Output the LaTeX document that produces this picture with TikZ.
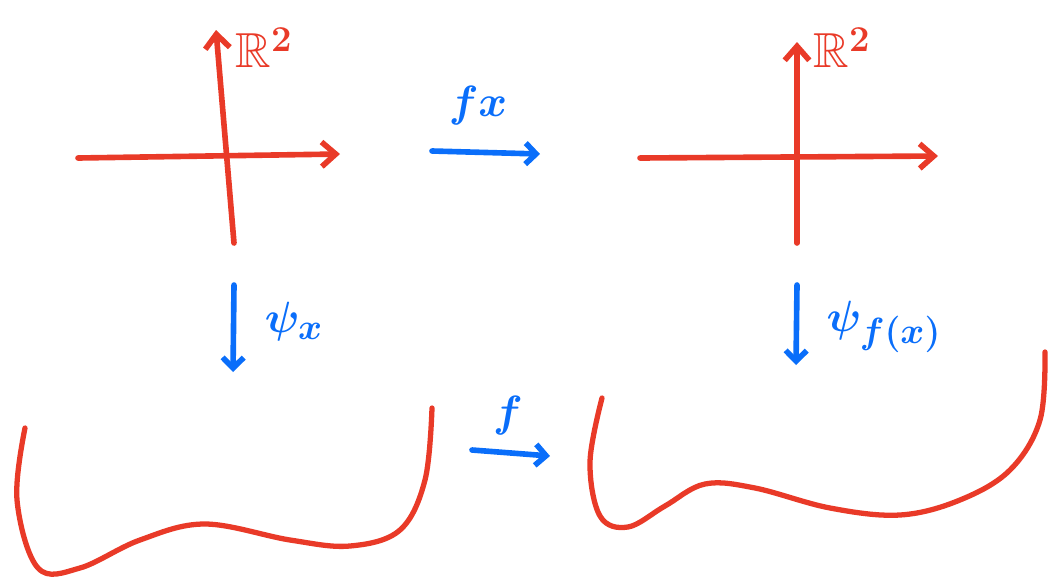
\documentclass[tikz,border=0pt]{standalone}
\usepackage{amssymb}
\usetikzlibrary{arrows.meta}
\definecolor{inkred}{RGB}{233,58,40}
\definecolor{inkblue}{RGB}{10,110,250}
\begin{document}
\begin{tikzpicture}[
    x=0.02cm, y=-0.02cm,
    axis/.style={inkred, line width=3.2pt, line cap=round, -{Straight Barb[length=8pt,width=14pt]}},
    map/.style={inkblue, line width=3.2pt, line cap=round, -{Straight Barb[length=6pt,width=12pt]}},
    curve/.style={inkred, line width=3pt, line cap=round},
    lbl/.style={text=#1, font=\fontsize{28}{32}\selectfont\boldmath, inner sep=0pt},
]
\useasboundingbox (0,0) rectangle (1049,582);
% left plane
\coordinate (l1w) at (78,158);
\coordinate (l1e) at (340,154);
\coordinate (l1s) at (234,243);
\coordinate (l1n) at (216,30);
\draw[axis] (l1w) -- (l1e);
\draw[axis] (l1s) -- (l1n);
\node[lbl=inkred] (r1) at (264,48) {$\mathbb{R}^2$};
% right plane
\coordinate (r2w) at (640,158);
\coordinate (r2e) at (938,156);
\coordinate (r2s) at (797,243);
\coordinate (r2n) at (797,42);
\draw[axis] (r2w) -- (r2e);
\draw[axis] (r2s) -- (r2n);
\node[lbl=inkred] (r2) at (842,48) {$\mathbb{R}^2$};
% maps
\coordinate (fxa) at (432,151);
\coordinate (fxb) at (540,154);
\draw[map] (fxa) -- (fxb);
\node[lbl=inkblue] (fx) at (478,106) {$fx$};
\coordinate (psa) at (234,285);
\coordinate (psb) at (233,372);
\draw[map] (psa) -- (psb);
\node[lbl=inkblue] (psx) at (294,322) {$\psi_x$};
\coordinate (pfa) at (797,285);
\coordinate (pfb) at (796,365);
\draw[map] (pfa) -- (pfb);
\node[lbl=inkblue] (psf) at (884,327) {$\psi_{f(x)}$};
\coordinate (fa) at (472,450);
\coordinate (fb) at (550,456);
\draw[map] (fa) -- (fb);
\node[lbl=inkblue] (f) at (508,416) {$f$};
% the two curves
\draw[curve] plot[smooth, tension=0.6] coordinates {(25,428) (17,500) (38,568) (80,568) (140,540) (205,524) (290,540) (350,546) (400,530) (425,480) (432,408)};
\draw[curve] plot[smooth, tension=0.6] coordinates {(602,398) (590,462) (600,516) (628,527) (665,506) (705,484) (755,488) (830,508) (900,515) (960,500) (1010,470) (1040,420) (1045,352)};
\end{tikzpicture}
\end{document}
